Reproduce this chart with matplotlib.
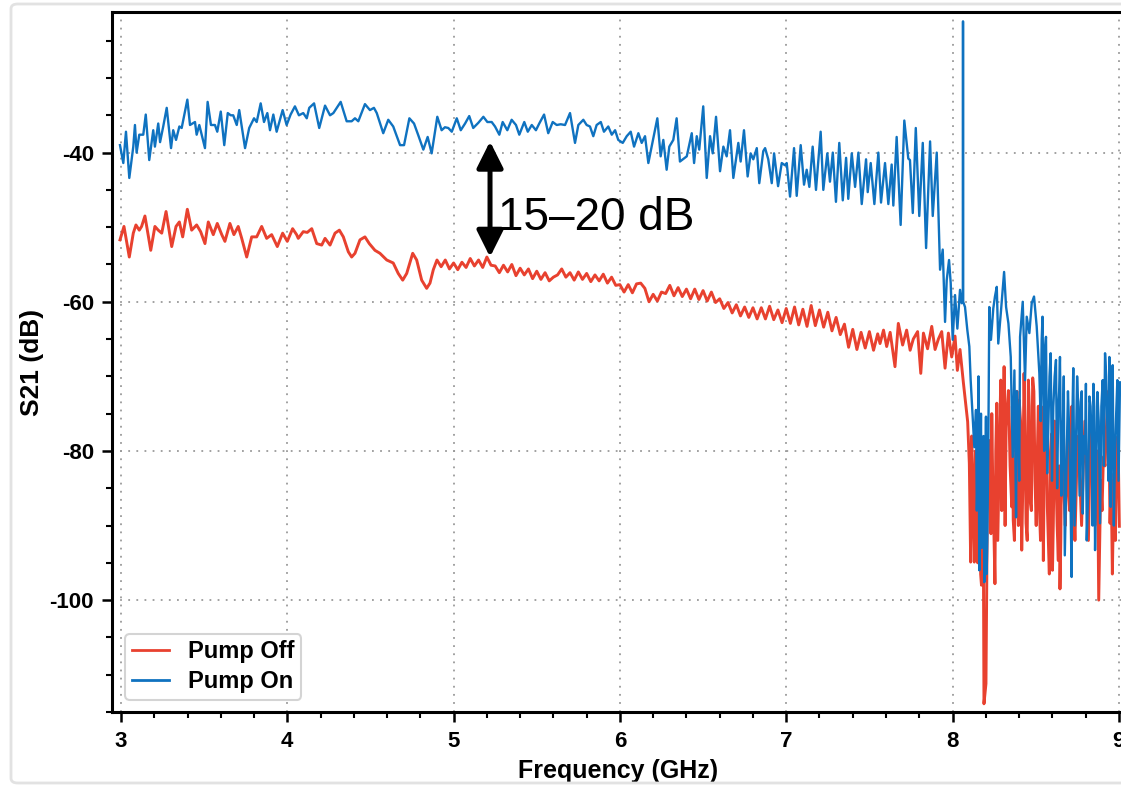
#!/usr/bin/env python3
"""
S21 transmission, pump off vs pump on
"""

import matplotlib
matplotlib.use("Agg")
import matplotlib.pyplot as plt
from matplotlib.patches import FancyBboxPatch
from matplotlib.ticker import MultipleLocator

plt.rcParams["axes.unicode_minus"] = False

# Pump On trace (GHz, dB)
pump_on_freq = [
    2.994, 3.014, 3.030, 3.050, 3.074, 3.084, 3.094, 3.110, 3.134, 3.149, 3.170, 3.194, 3.204, 3.224,
    3.235, 3.254, 3.275, 3.301, 3.314, 3.331, 3.351, 3.365, 3.399, 3.415, 3.445, 3.455, 3.471, 3.505,
    3.521, 3.541, 3.565, 3.579, 3.600, 3.621, 3.642, 3.660, 3.675, 3.696, 3.711, 3.746, 3.771, 3.800,
    3.816, 3.840, 3.860, 3.880, 3.896, 3.916, 3.936, 3.972, 3.996, 4.020, 4.046, 4.070, 4.096, 4.117,
    4.132, 4.161, 4.192, 4.227, 4.257, 4.277, 4.321, 4.357, 4.387, 4.407, 4.427, 4.467, 4.497, 4.521,
    4.538, 4.577, 4.607, 4.637, 4.678, 4.702, 4.734, 4.762, 4.788, 4.818, 4.844, 4.868, 4.902, 4.928,
    4.948, 4.968, 4.989, 5.019, 5.043, 5.069, 5.094, 5.118, 5.149, 5.179, 5.203, 5.229, 5.249, 5.275,
    5.295, 5.323, 5.349, 5.375, 5.395, 5.425, 5.446, 5.470, 5.495, 5.515, 5.544, 5.569, 5.596, 5.620,
    5.644, 5.670, 5.700, 5.730, 5.750, 5.780, 5.800, 5.820, 5.840, 5.860, 5.885, 5.904, 5.930, 5.951,
    5.971, 5.990, 6.017, 6.041, 6.065, 6.085, 6.111, 6.131, 6.151, 6.171, 6.197, 6.225, 6.245, 6.261,
    6.281, 6.297, 6.321, 6.341, 6.361, 6.385, 6.402, 6.432, 6.446, 6.462, 6.477, 6.501, 6.522, 6.542,
    6.558, 6.578, 6.602, 6.622, 6.642, 6.662, 6.682, 6.712, 6.726, 6.746, 6.768, 6.786, 6.802, 6.823,
    6.838, 6.862, 6.873, 6.892, 6.913, 6.927, 6.951, 6.973, 6.993, 7.003, 7.023, 7.047, 7.063, 7.087,
    7.107, 7.123, 7.139, 7.159, 7.179, 7.207, 7.223, 7.247, 7.263, 7.280, 7.299, 7.319, 7.340, 7.360,
    7.373, 7.394, 7.414, 7.434, 7.454, 7.480, 7.490, 7.508, 7.530, 7.554, 7.570, 7.594, 7.614, 7.634,
    7.644, 7.664, 7.688, 7.710, 7.734, 7.744, 7.761, 7.779, 7.800, 7.821, 7.841, 7.865, 7.881, 7.905,
    7.925, 7.941, 7.955, 7.965, 7.979, 7.989, 8.001, 8.015, 8.029, 8.045, 8.055, 8.062, 8.063, 8.064,
    8.075, 8.089, 8.101, 8.109, 8.121, 8.131, 8.141, 8.151, 8.161, 8.171, 8.181, 8.191, 8.201, 8.209,
    8.221, 8.231, 8.245, 8.255, 8.266, 8.275, 8.290, 8.310, 8.322, 8.336, 8.350, 8.362, 8.372, 8.382,
    8.396, 8.406, 8.422, 8.436, 8.446, 8.462, 8.476, 8.490, 8.506, 8.522, 8.536, 8.546, 8.562, 8.576,
    8.590, 8.606, 8.622, 8.636, 8.646, 8.662, 8.675, 8.686, 8.702, 8.716, 8.726, 8.742, 8.756, 8.771,
    8.783, 8.797, 8.807, 8.823, 8.837, 8.847, 8.857, 8.871, 8.887, 8.903, 8.917, 8.931, 8.943, 8.951,
    8.963, 8.977, 8.991, 9.007,
]
pump_on_db = [
    -39.0, -41.4, -37.2, -43.4, -39.2, -36.3, -40.0, -37.6, -37.6, -34.9, -41.0, -37.0, -39.2, -36.1,
    -38.6, -36.5, -34.0, -39.4, -37.0, -38.3, -36.5, -36.7, -32.9, -36.3, -35.9, -37.6, -36.3, -39.4,
    -33.2, -36.3, -36.3, -37.2, -34.5, -39.0, -34.7, -35.0, -35.0, -36.3, -34.3, -39.4, -36.7, -35.4,
    -35.9, -33.4, -35.9, -34.7, -37.0, -34.9, -37.2, -34.3, -36.3, -34.9, -33.8, -35.0, -34.7, -35.4,
    -34.0, -33.4, -36.7, -33.7, -35.0, -34.7, -33.2, -35.8, -35.8, -35.4, -35.8, -33.5, -34.3, -34.0,
    -34.7, -37.4, -35.6, -36.5, -39.0, -39.0, -35.4, -36.1, -37.7, -39.6, -37.9, -40.1, -35.2, -37.0,
    -36.6, -36.7, -37.2, -35.4, -37.0, -36.1, -35.1, -36.7, -36.0, -35.2, -35.9, -35.9, -36.5, -37.6,
    -35.9, -37.0, -35.6, -36.3, -37.6, -35.9, -37.2, -36.3, -37.0, -36.1, -34.9, -37.4, -35.9, -36.3,
    -36.2, -36.3, -34.7, -38.7, -36.3, -35.6, -36.3, -36.5, -37.8, -36.3, -35.9, -37.2, -36.5, -37.6,
    -37.0, -38.3, -38.7, -37.8, -37.2, -39.2, -37.4, -38.7, -37.8, -41.4, -38.5, -35.4, -40.5, -38.3,
    -42.3, -39.2, -38.3, -35.4, -41.2, -40.8, -40.5, -37.4, -41.4, -37.8, -39.6, -33.8, -43.4, -37.8,
    -40.1, -35.2, -42.5, -39.2, -40.5, -37.0, -43.4, -38.7, -41.2, -37.0, -43.2, -40.1, -40.9, -39.4,
    -44.1, -39.8, -39.4, -40.9, -44.1, -40.1, -44.5, -41.4, -41.7, -41.4, -45.9, -39.4, -45.8, -39.0,
    -44.3, -42.3, -44.6, -39.2, -45.0, -37.2, -45.0, -40.1, -43.9, -40.0, -46.6, -38.7, -46.4, -40.7,
    -46.2, -40.1, -44.6, -40.0, -46.9, -40.9, -45.3, -41.4, -46.9, -40.0, -46.7, -41.4, -46.9, -41.6,
    -47.1, -37.9, -49.7, -35.7, -40.8, -41.0, -48.1, -36.7, -48.5, -38.7, -52.8, -38.5, -48.5, -40.0,
    -55.7, -53.0, -62.7, -57.1, -54.4, -57.5, -65.1, -59.1, -63.6, -58.4, -60.2, -60.0, -22.4, -60.0,
    -60.7, -63.8, -66.0, -70.5, -75.4, -79.5, -74.5, -83.0, -96.0, -75.0, -89.7, -97.6, -75.4, -92.0,
    -60.7, -65.1, -60.9, -59.3, -58.0, -65.6, -61.6, -56.0, -60.7, -62.9, -67.4, -80.8, -69.2, -88.9,
    -77.7, -64.7, -60.0, -70.5, -62.0, -64.2, -60.2, -59.3, -63.3, -69.6, -65.1, -71.9, -64.7, -76.8,
    -66.9, -74.1, -67.8, -74.1, -67.4, -78.6, -94.0, -80.8, -77.7, -96.9, -68.9, -79.5, -74.1, -73.4,
    -88.4, -80.3, -92.0, -72.7, -79.5, -71.0, -93.3, -72.1, -89.7, -70.5, -66.9, -76.8, -67.4, -87.5,
    -68.5, -80.3, -70.5, -70.8,
]
# extra spikes read from the dense part above 8.1 GHz
pump_on_freq_dense = [
    8.146, 8.156, 8.166, 8.176, 8.186, 8.196, 8.205, 8.215, 8.386, 8.401, 8.530, 8.541, 8.551, 8.557,
    8.569, 8.583, 8.598, 8.614, 8.629, 8.641, 8.654, 8.669, 8.680, 8.694, 8.709, 8.721, 8.734, 8.749,
    8.764, 8.777, 8.790, 8.802, 8.815, 8.830, 8.842, 8.852, 8.864, 8.879, 8.895, 8.910, 8.924, 8.937,
    8.957, 8.970, 8.984, 8.998,
]
pump_on_db_dense = [
    -88.0, -70.0, -85.0, -93.0, -78.0, -86.0, -96.5, -80.0, -72.0, -84.0, -76.0, -62.0, -80.0, -66.0,
    -83.0, -70.0, -84.0, -70.0, -85.0, -72.0, -86.0, -70.0, -88.0, -72.0, -86.0, -75.0, -90.0, -70.0,
    -86.0, -72.0, -78.0, -71.0, -86.0, -74.0, -90.0, -74.0, -82.0, -76.0, -74.0, -82.0, -70.0, -84.0,
    -74.0, -90.0, -75.0, -84.0,
]

# Pump Off trace (GHz, dB)
pump_off_freq = [
    2.994, 3.018, 3.050, 3.074, 3.090, 3.110, 3.124, 3.144, 3.179, 3.204, 3.224, 3.245, 3.271, 3.305,
    3.331, 3.351, 3.371, 3.399, 3.425, 3.455, 3.479, 3.505, 3.525, 3.555, 3.579, 3.606, 3.625, 3.655,
    3.679, 3.705, 3.726, 3.756, 3.786, 3.816, 3.846, 3.876, 3.906, 3.940, 3.972, 4.000, 4.032, 4.056,
    4.066, 4.096, 4.120, 4.147, 4.177, 4.207, 4.227, 4.257, 4.287, 4.313, 4.337, 4.367, 4.387, 4.407,
    4.437, 4.467, 4.493, 4.527, 4.557, 4.598, 4.637, 4.667, 4.694, 4.718, 4.754, 4.778, 4.808, 4.838,
    4.858, 4.878, 4.900, 4.925, 4.950, 4.975, 5.000, 5.025, 5.050, 5.075, 5.100, 5.125, 5.150, 5.175,
    5.200, 5.225, 5.250, 5.275, 5.300, 5.325, 5.350, 5.375, 5.400, 5.425, 5.450, 5.475, 5.500, 5.525,
    5.550, 5.575, 5.600, 5.625, 5.650, 5.675, 5.700, 5.725, 5.750, 5.775, 5.800, 5.825, 5.850, 5.875,
    5.900, 5.925, 5.950, 5.975, 6.000, 6.025, 6.050, 6.075, 6.100, 6.125, 6.150, 6.175, 6.200, 6.225,
    6.250, 6.275, 6.300, 6.325, 6.350, 6.375, 6.400, 6.425, 6.450, 6.475, 6.500, 6.525, 6.550, 6.575,
    6.600, 6.625, 6.650, 6.675, 6.700, 6.725, 6.750, 6.775, 6.800, 6.825, 6.850, 6.875, 6.900, 6.925,
    6.950, 6.975, 7.000, 7.025, 7.050, 7.075, 7.100, 7.125, 7.150, 7.175, 7.200, 7.225, 7.250, 7.275,
    7.300, 7.325, 7.350, 7.375, 7.400, 7.425, 7.450, 7.475, 7.500, 7.525, 7.550, 7.564, 7.585, 7.604,
    7.625, 7.654, 7.674, 7.700, 7.724, 7.745, 7.764, 7.790, 7.809, 7.825, 7.850, 7.875, 7.895, 7.915,
    7.935, 7.955, 7.975, 7.995, 8.015, 8.029, 8.045, 8.065, 8.081, 8.091, 8.101, 8.109, 8.121, 8.131,
    8.145, 8.157, 8.169, 8.179, 8.189, 8.201, 8.209, 8.221, 8.231, 8.241, 8.255, 8.266, 8.279, 8.290,
    8.302, 8.310, 8.322, 8.336, 8.356, 8.365, 8.382, 8.392, 8.401, 8.416, 8.430, 8.442, 8.456, 8.466,
    8.482, 8.496, 8.510, 8.522, 8.536, 8.546, 8.556, 8.570, 8.582, 8.596, 8.606, 8.622, 8.636, 8.646,
    8.656, 8.670, 8.686, 8.696, 8.711, 8.726, 8.746, 8.766, 8.786, 8.807, 8.827, 8.847, 8.863, 8.879,
    8.891, 8.907, 8.927, 8.947, 8.961, 8.971, 8.987, 9.003,
]
pump_off_db = [
    -51.7, -49.9, -54.0, -50.8, -49.7, -50.4, -49.9, -48.5, -53.1, -49.9, -50.4, -50.8, -47.9, -52.6,
    -49.9, -49.3, -51.3, -47.6, -50.4, -49.7, -50.6, -52.2, -49.3, -51.0, -49.5, -51.0, -51.9, -49.5,
    -51.0, -49.9, -51.5, -54.0, -51.3, -51.3, -49.9, -51.5, -51.0, -52.6, -50.8, -51.9, -50.2, -51.0,
    -51.5, -50.6, -50.7, -50.2, -52.2, -52.4, -51.5, -52.4, -50.8, -50.4, -51.3, -53.3, -54.0, -53.5,
    -51.7, -51.3, -52.2, -53.1, -53.5, -54.4, -54.8, -56.2, -57.1, -56.2, -53.5, -54.4, -57.1, -58.2,
    -57.5, -55.7, -54.4, -55.3, -54.4, -55.6, -54.8, -55.7, -54.7, -55.4, -54.2, -55.2, -54.4, -55.4,
    -54.0, -55.1, -55.2, -56.1, -55.1, -56.0, -55.0, -56.5, -55.5, -56.4, -55.6, -56.9, -55.9, -57.0,
    -56.1, -57.2, -56.7, -56.4, -55.6, -56.7, -56.1, -57.1, -56.0, -57.0, -56.2, -57.3, -56.4, -57.2,
    -56.3, -57.5, -56.7, -57.8, -57.7, -58.7, -57.7, -58.8, -57.6, -57.5, -58.2, -60.0, -59.0, -59.9,
    -58.7, -58.9, -57.8, -59.2, -58.1, -59.3, -58.3, -59.6, -58.3, -59.7, -58.5, -59.9, -58.7, -60.1,
    -59.6, -60.9, -60.1, -61.5, -60.4, -61.9, -60.7, -62.1, -60.8, -62.3, -60.8, -62.3, -60.6, -62.4,
    -61.1, -62.8, -60.9, -62.9, -60.7, -63.1, -61.0, -63.3, -60.5, -63.2, -61.1, -63.4, -61.4, -63.9,
    -62.1, -64.4, -63.0, -66.1, -63.7, -66.4, -64.1, -66.2, -64.0, -66.5, -64.3, -65.6, -63.8, -66.0,
    -64.1, -68.7, -62.9, -65.8, -63.8, -66.5, -65.0, -64.0, -69.6, -64.2, -66.3, -63.3, -66.4, -65.0,
    -64.0, -68.9, -64.2, -67.4, -64.6, -69.2, -66.4, -70.8, -74.1, -76.1, -81.7, -94.9, -83.0, -94.9,
    -87.5, -91.1, -96.5, -92.0, -113.9, -111.2, -88.4, -78.6, -91.1, -83.0, -97.8, -73.6, -83.0, -70.5,
    -78.6, -68.7, -76.8, -71.9, -87.5, -89.3, -78.6, -83.0, -73.2, -93.3, -69.6, -89.7, -70.5, -86.6,
    -70.2, -84.0, -80.3, -87.5, -74.1, -94.7, -72.7, -87.5, -96.5, -77.7, -89.7, -83.0, -94.7, -98.5,
    -78.6, -85.7, -83.0, -84.0, -78.6, -85.7, -83.0, -84.0, -82.2, -83.0, -80.3, -83.0, -85.7, -100.0,
    -84.0, -80.8, -75.9, -89.7, -96.5, -83.0, -80.3, -90.1,
]
# extra spikes read from the dense part above 8.1 GHz
pump_off_freq_dense = [
    8.105, 8.115, 8.126, 8.138, 8.151, 8.163, 8.174, 8.184, 8.226, 8.236, 8.248, 8.260, 8.272, 8.285,
    8.296, 8.306, 8.316, 8.329, 8.346, 8.360, 8.372, 8.387, 8.396, 8.409, 8.423, 8.436, 8.449, 8.461,
    8.474, 8.489, 8.503, 8.516, 8.529, 8.541, 8.551, 8.563, 8.576, 8.589, 8.601, 8.614, 8.629, 8.641,
    8.651, 8.663, 8.678, 8.691, 8.704, 8.718, 8.736, 8.756, 8.776, 8.796, 8.817, 8.837, 8.855, 8.871,
    8.899, 8.917, 8.937, 8.954, 8.979, 8.995,
]
pump_off_db_dense = [
    -88.0, -78.0, -90.0, -80.0, -95.0, -82.0, -98.0, -85.0, -84.0, -75.0, -90.0, -80.0, -92.0, -76.0,
    -88.0, -80.0, -90.0, -74.0, -82.0, -74.0, -92.0, -72.0, -90.0, -76.0, -84.0, -78.0, -92.0, -74.0,
    -88.0, -72.0, -90.0, -74.0, -92.0, -78.0, -84.0, -75.0, -92.0, -80.0, -96.0, -76.0, -90.0, -82.0,
    -92.0, -76.0, -90.0, -78.0, -88.0, -74.0, -92.0, -78.0, -90.0, -76.0, -92.0, -76.0, -90.0, -80.0,
    -88.0, -82.0, -72.0, -84.0, -92.0, -78.0,
]

series_labels = ["Pump Off", "Pump On"]
gap_label = "15\u201320 dB"
gap_freq = 5.219
gap_top_db = -38.5
gap_bottom_db = -54.0

RED = "#e8412f"
BLUE = "#0f72c0"


def merged(freq, db, freq_extra, db_extra):
    pairs = sorted(zip(list(freq) + list(freq_extra), list(db) + list(db_extra)))
    return [p[0] for p in pairs], [p[1] for p in pairs]


off_f, off_db = merged(pump_off_freq, pump_off_db, pump_off_freq_dense, pump_off_db_dense)
on_f, on_db = merged(pump_on_freq, pump_on_db, pump_on_freq_dense, pump_on_db_dense)

W, H = 1121, 785
fig = plt.figure(figsize=(W / 100, H / 100), dpi=100)
fig.patch.set_facecolor("white")

# faint screenshot frame
fig.patches.append(FancyBboxPatch((11 / W, 2 / H), 1.2, (781 - 2) / H,
                                  boxstyle="round,pad=0,rounding_size=0.006",
                                  transform=fig.transFigure, facecolor="none",
                                  edgecolor="#e2e2e2", linewidth=2.0))

ax = fig.add_axes([112 / W, 73 / H, 1013 / W, 700 / H])

ax.plot(off_f, off_db, color=RED, linewidth=2.1, label=series_labels[0])
ax.plot(on_f, on_db, color=BLUE, linewidth=1.7, label=series_labels[1])

ax.set_xlim(2.946, 9.037)
ax.set_ylim(-115.0, -21.15)

ax.xaxis.set_major_locator(MultipleLocator(1))
ax.xaxis.set_minor_locator(MultipleLocator(0.2))
ax.yaxis.set_major_locator(MultipleLocator(20))
ax.yaxis.set_minor_locator(MultipleLocator(5))

ax.grid(True, which="major", color="#9a9a9a", linestyle=(0, (1, 3.5)), linewidth=1.3)

for side in ["left", "top", "bottom", "right"]:
    ax.spines[side].set_linewidth(2.2)
    ax.spines[side].set_color("black")

font = "Liberation Sans"
ax.tick_params(which="major", direction="out", length=7, width=1.8, labelsize=16)
ax.tick_params(which="minor", direction="out", length=4.5, width=1.5)
ax.tick_params(axis="x", which="major", pad=7)
ax.tick_params(axis="y", which="major", pad=6)
for lab in ax.get_xticklabels() + ax.get_yticklabels():
    lab.set_fontfamily(font)
    lab.set_fontweight("bold")

ax.set_xlabel("Frequency (GHz)", fontsize=18, fontweight="bold", family=font, labelpad=5)
ax.set_ylabel("S21 (dB)", fontsize=19, fontweight="bold", family=font, labelpad=4)

# double-headed arrow and gap label
ax.annotate("", xy=(gap_freq, gap_top_db), xytext=(gap_freq, gap_bottom_db),
            arrowprops=dict(arrowstyle="<|-|>,head_length=0.8,head_width=0.4",
                            color="black", lw=3.6, mutation_scale=20,
                            shrinkA=0, shrinkB=0))
ax.text(5.267, -50.4, gap_label, fontsize=33, family=font, color="black",
        ha="left", va="baseline")

leg = ax.legend(loc="lower left", bbox_to_anchor=(0.0128, 0.017), borderaxespad=0,
                prop={"family": font, "weight": "bold", "size": 17},
                frameon=True, fancybox=True, edgecolor="#d4d4d4", framealpha=1,
                handlelength=1.6, handletextpad=0.8, borderpad=0.28, labelspacing=0.3)
leg.get_frame().set_linewidth(1.5)
for line in leg.get_lines():
    line.set_linewidth(2.0)

fig.savefig("out.png", dpi=100)
